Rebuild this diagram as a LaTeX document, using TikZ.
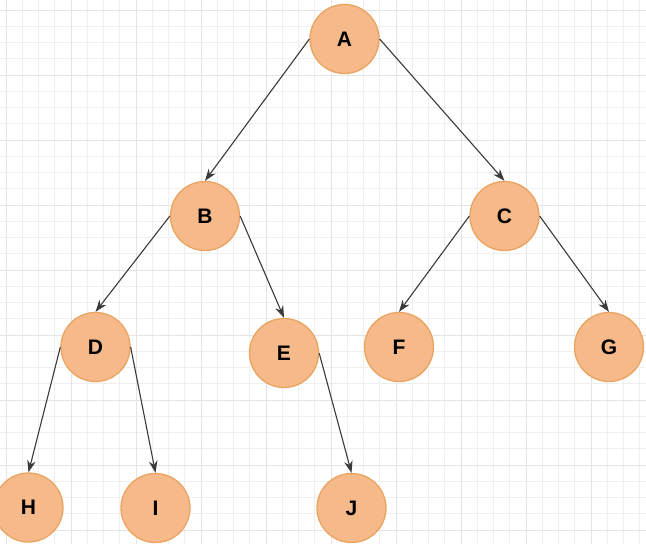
\documentclass[tikz,border=0pt]{standalone}
\usepackage{fontspec}
\setmainfont{Liberation Sans}
\usetikzlibrary{arrows.meta}
\definecolor{nodefill}{HTML}{F5B98A}
\definecolor{nodeline}{HTML}{EBA460}
\definecolor{gridminor}{HTML}{EFEFEF}
\definecolor{gridmajor}{HTML}{E4E4E4}
\definecolor{edgecol}{HTML}{3A3A3A}
\begin{document}
\begin{tikzpicture}[x=1pt, y=-1pt, line join=round, >={Stealth[length=12pt,width=8.5pt]},
		vertex/.style={circle, draw=nodeline, fill=nodefill, line width=1.3pt, minimum size=69pt, inner sep=0pt, font=\fontsize{21}{21}\selectfont\bfseries},
		edge/.style={->, draw=edgecol, line width=1.1pt}]
			\useasboundingbox (0,0) rectangle (646,544);
			\fill[white] (0,0) rectangle (646,544);
			% grid
			\foreach \i in {0,...,39} \draw[gridminor, line width=1pt] ({6+16.25*\i},0) -- ({6+16.25*\i},544);
			\foreach \i in {0,...,33} \draw[gridminor, line width=1pt] (0,{10+16.25*\i}) -- (646,{10+16.25*\i});
			\foreach \i in {0,...,9} \draw[gridmajor, line width=1pt] ({6+65*\i},0) -- ({6+65*\i},544);
			\foreach \i in {0,...,8} \draw[gridmajor, line width=1pt] (0,{10+65*\i}) -- (646,{10+65*\i});
			% nodes
			\node[vertex] (a) at (344.5,39) {A};
			\node[vertex] (b) at (205,216) {B};
			\node[vertex] (c) at (504.5,216) {C};
			\node[vertex] (d) at (95.5,347) {D};
			\node[vertex] (e) at (284,353) {E};
			\node[vertex] (f) at (399,347) {F};
			\node[vertex] (g) at (609,347) {G};
			\node[vertex] (h) at (28.5,507.5) {H};
			\node[vertex] (i) at (155.5,508) {I};
			\node[vertex] (j) at (351.5,508) {J};
			% edges
			\draw[edge] (a.west) -- (b.north);
			\draw[edge] (a.east) -- (c.north);
			\draw[edge] (b.west) -- (d.north);
			\draw[edge] (b.east) -- (e.north);
			\draw[edge] (c.west) -- (f.north);
			\draw[edge] (c.east) -- (g.north);
			\draw[edge] (d.west) -- (h.north);
			\draw[edge] (d.east) -- (i.north);
			\draw[edge] (e.east) -- (j.north);
		\end{tikzpicture}
\end{document}
